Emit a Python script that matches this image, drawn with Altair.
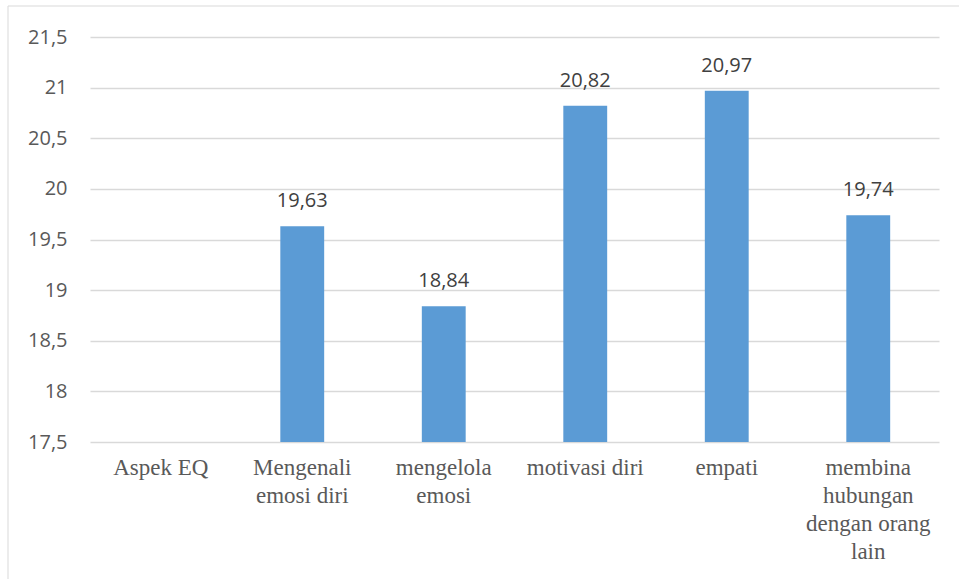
import altair as alt
import pandas as pd

categories = ["Aspek EQ", "Mengenali emosi diri", "mengelola emosi",
              "motivasi diri", "empati", "membina hubungan dengan orang lain"]
values = [None, 19.63, 18.84, 20.82, 20.97, 19.74]
wrapped = {
    "Aspek EQ": ["Aspek EQ"],
    "Mengenali emosi diri": ["Mengenali", "emosi diri"],
    "mengelola emosi": ["mengelola", "emosi"],
    "motivasi diri": ["motivasi diri"],
    "empati": ["empati"],
    "membina hubungan dengan orang lain": ["membina", "hubungan", "dengan orang", "lain"],
}
y_ticks = [17.5, 18, 18.5, 19, 19.5, 20, 20.5, 21, 21.5]

df = pd.DataFrame({"cat": categories, "val": values})

def js_list(lst):
    return "[" + ",".join("'" + s + "'" for s in lst) + "]"

label_expr = ""
for k, v in wrapped.items():
    label_expr += f"datum.value == '{k}' ? {js_list(v)} : "
label_expr += "datum.value"

W, H = 849, 405

x_enc = alt.X("cat:N", sort=categories,
              scale=alt.Scale(domain=categories, paddingInner=0.69, paddingOuter=0.345),
              axis=alt.Axis(title=None, labelAngle=0, labelExpr=label_expr,
                            labelFont="Liberation Serif", labelFontSize=23,
                            labelColor="#595959", labelLineHeight=28,
                            labelPadding=14, domain=False, ticks=False,
                            labelBaseline="top"))
y_scale = alt.Scale(domain=[17.5, 21.5], zero=False, nice=False)

base = alt.Chart(df)

border = alt.Chart(pd.DataFrame({"a": [0]})).mark_rect(
    fill=None, stroke="#d9d9d9", strokeWidth=1
).encode(x=alt.value(-82), x2=alt.value(W + 40), y=alt.value(-31), y2=alt.value(H + 160))

bars = base.mark_bar(color="#5b9bd5").encode(
    x=x_enc,
    y=alt.Y("val:Q", scale=y_scale,
            axis=alt.Axis(title=None, values=y_ticks,
                          labelExpr="replace(format(datum.value, '.1~f'), '.', ',')",
                          labelFont="Open Sans", labelFontSize=20, labelColor="#595959",
                          labelPadding=23, domain=False, ticks=False,
                          grid=True, gridColor="#d9d9d9", gridWidth=1.3)),
    y2=alt.datum(17.5),
)

texts = base.transform_filter("isValid(datum.val)").transform_calculate(
    lab="replace(format(datum.val, '.2f'), '.', ',')"
).mark_text(font="Open Sans", fontSize=20, color="#404040",
            baseline="alphabetic", dy=-19).encode(
    x=alt.X("cat:N", sort=categories),
    y=alt.Y("val:Q", scale=y_scale),
    text="lab:N",
)

chart = alt.layer(border, bars, texts).properties(
    width=W, height=H,
    autosize=alt.AutoSizeParams(type="none"),
    padding={"left": 90, "top": 37, "right": 20, "bottom": 137},
    background="white",
).configure_view(stroke=None)

chart.save("out.html", embed_options={"renderer": "svg", "actions": False})
